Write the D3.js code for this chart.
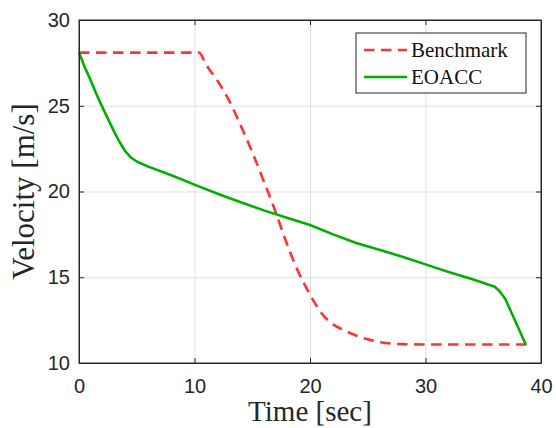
<!DOCTYPE html>
<html>
<head>
<meta charset="utf-8">
<script src="https://cdn.jsdelivr.net/npm/d3@7"></script>
<style>
  body { margin: 0; background: #fff; }
  .grid line { stroke: #dfdfdf; stroke-width: 1; }
  .grid path { display: none; }
  .tick text { font-family: "Liberation Sans", Arial, sans-serif; font-size: 20px; fill: #262626; }
</style>
</head>
<body>
<svg id="chart"></svg>
<script>
// values
const bench_t = [0, 10.4, 11, 12, 13, 14, 15, 16, 17, 18, 19, 20, 21, 22, 23, 24, 25, 26, 28, 30, 38.7];
const bench_v = [28.1, 28.1, 27.4, 26.45, 25.3, 23.85, 22.3, 20.6, 18.85, 16.95, 15.3, 14.0, 12.9, 12.25, 11.9, 11.6, 11.38, 11.22, 11.1, 11.08, 11.08];

const eoacc_t = [0, 0.5, 1, 1.5, 2, 2.5, 3, 3.5, 4, 4.5, 5, 6, 8, 10, 12, 14, 16, 18, 20, 22, 24, 26, 28, 30, 32, 34, 36, 36.4, 36.9, 38.7];
const eoacc_v = [28.1, 27.25, 26.5, 25.7, 24.95, 24.25, 23.55, 22.9, 22.35, 21.98, 21.75, 21.45, 20.95, 20.4, 19.87, 19.37, 18.9, 18.47, 18.05, 17.5, 17.0, 16.6, 16.2, 15.75, 15.3, 14.9, 14.45, 14.2, 13.75, 11.05];

const x_ticks = [0, 10, 20, 30, 40];
const y_ticks = [10, 15, 20, 25, 30];
const series_names = ['Benchmark', 'EOACC'];

const W = 556, H = 428;
var margin = {top: 20, right: 15, bottom: 65, left: 79};
const width = W - margin.left - margin.right;
const height = H - margin.top - margin.bottom;

const svg = d3.select('#chart').attr('width', W).attr('height', H);
const chart = svg.append('g').attr('transform', `translate(${margin.left}, ${margin.top})`);

const xScale = d3.scaleLinear().domain([0, 40]).range([0, width]);
const yScale = d3.scaleLinear().domain([10, 30]).range([height, 0]);

// grid
chart.append('g').attr('class', 'grid')
    .call(d3.axisBottom(xScale).tickValues(x_ticks).tickSize(height).tickFormat(''));
chart.append('g').attr('class', 'grid')
    .call(d3.axisLeft(yScale).tickValues(y_ticks).tickSize(-width).tickFormat(''));

const smooth = d3.line().x(d => xScale(d[0])).y(d => yScale(d[1])).curve(d3.curveMonotoneX);
const straight = d3.line().x(d => xScale(d[0])).y(d => yScale(d[1]));

chart.append('path')
    .datum(bench_t.map((t, i) => [t, bench_v[i]]))
    .attr('d', smooth)
    .attr('fill', 'none')
    .attr('stroke', '#ff3333')
    .attr('stroke-width', 2.6)
    .attr('stroke-dasharray', '10.5,6.5');

chart.append('path')
    .datum(eoacc_t.map((t, i) => [t, eoacc_v[i]]))
    .attr('d', straight)
    .attr('fill', 'none')
    .attr('stroke', '#00b000')
    .attr('stroke-width', 2.6)
    .attr('stroke-linejoin', 'round');

// axes with inward ticks (box on)
const axColor = '#262626';
chart.append('g').attr('transform', `translate(0, ${height})`)
    .call(d3.axisBottom(xScale).tickValues(x_ticks).tickSizeInner(-5).tickSizeOuter(0).tickPadding(16));
chart.append('g')
    .call(d3.axisLeft(yScale).tickValues(y_ticks).tickSizeInner(-5).tickSizeOuter(0).tickPadding(9));
chart.append('g')
    .call(d3.axisTop(xScale).tickValues(x_ticks).tickSizeInner(-5).tickSizeOuter(0).tickFormat(''));
chart.append('g').attr('transform', `translate(${width}, 0)`)
    .call(d3.axisRight(yScale).tickValues(y_ticks).tickSizeInner(-5).tickSizeOuter(0).tickFormat(''));
chart.selectAll('.domain').attr('stroke', axColor);
chart.selectAll('.tick line').filter(function() { return !this.parentNode.parentNode.classList.contains('grid'); })
    .attr('stroke', axColor);
chart.append('rect').attr('width', width).attr('height', height)
    .attr('fill', 'none').attr('stroke', axColor).attr('stroke-width', 1);

// axis labels
svg.append('text')
    .attr('x', margin.left + width / 2)
    .attr('y', 421)
    .attr('text-anchor', 'middle')
    .style('font-family', '"Liberation Serif", "DejaVu Serif", serif')
    .style('font-size', '29px')
    .attr('fill', axColor)
    .text('Time [sec]');

svg.append('text')
    .attr('transform', `translate(34, ${margin.top + height / 2}) rotate(-90)`)
    .attr('text-anchor', 'middle')
    .style('font-family', '"Liberation Serif", "DejaVu Serif", serif')
    .style('font-size', '31px')
    .attr('fill', axColor)
    .text('Velocity [m/s]');

// legend
const legend = svg.append('g').attr('transform', 'translate(356, 33)');
legend.append('rect').attr('width', 170).attr('height', 60)
    .attr('fill', '#fff').attr('stroke', axColor).attr('stroke-width', 1);
const styles = [{c: '#ff3333', dash: '10.5,6.5'}, {c: '#00b000', dash: null}];
series_names.forEach((name, i) => {
    const y = 17 + i * 27;
    legend.append('line')
        .attr('x1', 8).attr('x2', 51).attr('y1', y).attr('y2', y)
        .attr('stroke', styles[i].c).attr('stroke-width', 2.6)
        .attr('stroke-dasharray', styles[i].dash);
    legend.append('text')
        .attr('x', 55).attr('y', y + 7)
        .style('font-family', '"Liberation Serif", "DejaVu Serif", serif')
        .style('font-size', '21px')
        .attr('fill', '#111')
        .text(name);
});
</script>
</body>
</html>
